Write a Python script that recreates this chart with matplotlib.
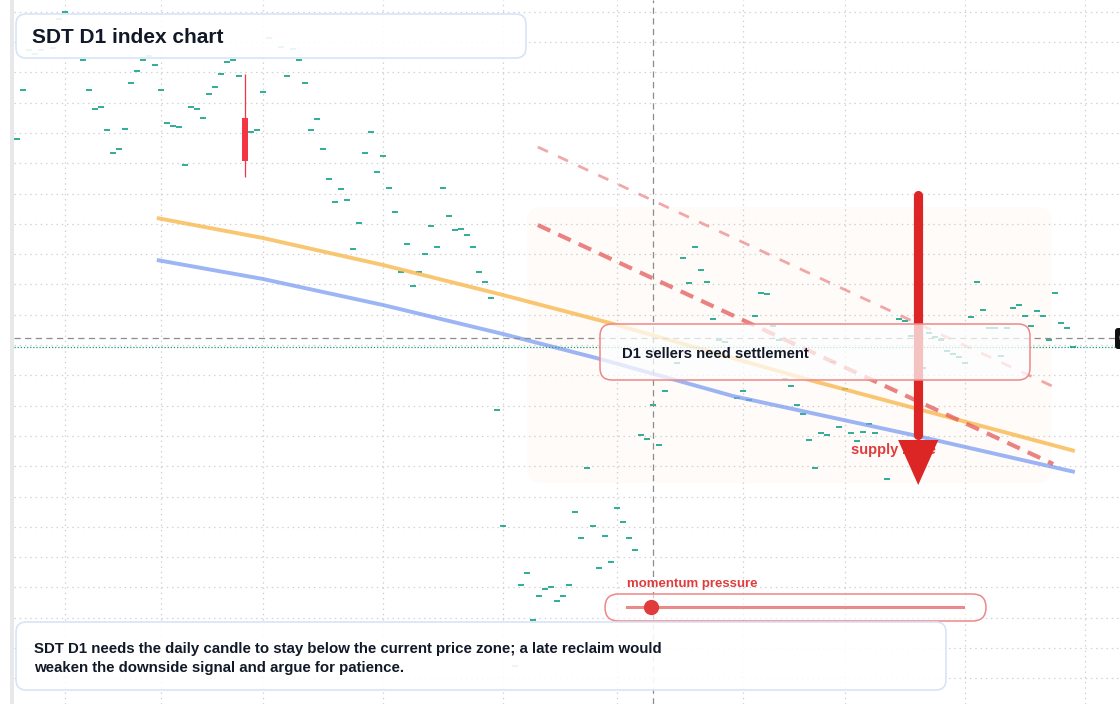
import numpy as np
import matplotlib
matplotlib.use("Agg")
import matplotlib.pyplot as plt
from matplotlib.patches import FancyBboxPatch, FancyArrow, Rectangle

plt.rcParams['font.family'] = ['Liberation Sans', 'DejaVu Sans']

# daily closes, one per bar (None = bar off screen / not readable)
closes = [
    86.1, 91.0, 95.0, 94.6, 95.0, None, 95.2, 98.1, 98.8, None,
    None, 94.0, 91.0, 89.1, 89.3, 87.0, 84.7, 85.1, 87.1, 91.7,
    92.9, 94.0, 94.4, 93.5, 91.0, 87.7, 87.4, 87.3, 83.5, 89.3,
    89.1, 88.2, 90.6, 91.3, 92.6, 93.8, 94.0, 92.4, 83.9, 86.8,
    87.0, 90.8, 96.2, None, 95.3, 92.4, 95.1, 94.0, 91.7, 87.0,
    88.1, 85.1, 82.1, 79.8, 81.1, 80.0, 75.1, 77.7, 84.7, 86.8,
    82.8, 84.4, 81.2, 78.8, 72.8, 75.6, 71.4, 72.8, 74.6, 77.4,
    75.3, 81.2, 78.4, 77.0, 77.1, 76.5, 75.3, 72.8, 71.8, 70.2,
    59.0, 47.4, None, 33.4, 41.5, 42.7, 38.0, 40.4, 41.1, 41.3,
    39.9, 40.4, 41.5, 48.8, 46.2, 53.2, 47.4, 43.2, 46.4, 43.8,
    49.2, 47.8, 46.2, 45.0, 56.5, 56.1, 59.5, 55.5, 60.9, None,
    63.7, 74.2, 71.7, 75.3, 73.0, 71.8, 68.1, 66.0, 65.8, None,
    60.2, 60.9, 60.0, 68.4, 70.7, 70.6, 67.4, 66.0, 62.1, 61.4,
    59.5, 58.6, 56.0, 53.2, 56.7, 56.5, 63.8, 57.3, 61.1, 56.7,
    55.9, 56.8, 57.6, 56.7, None, 52.1, None, 68.1, 67.9, 66.4,
    None, 63.2, 66.7, 66.3, 66.0, 64.9, 64.6, 64.3, 63.7, 68.3,
    71.8, 69.0, 67.2, 67.2, 64.4, 67.2, 69.2, 69.5, 68.4, 67.4,
    68.9, 68.4, 66.0, 70.7, 67.7, 67.2, 65.3,
]

# the single full-bodied (bearish) candle
red_idx = 38
red_open, red_high, red_low, red_close = 88.2, 92.6, 82.3, 83.9

# moving averages: bar index / level
ma_slow_x = [23.3, 41.0, 61.0, 81.0, 98.8, 132.7, 176.3]
ma_slow_y = [78.2, 76.2, 73.5, 70.5, 67.7, 61.9, 54.9]
ma_fast_x = [23.3, 41.0, 61.0, 81.0, 97.2, 119.3, 149.3, 176.3]
ma_fast_y = [74.0, 72.1, 69.5, 66.6, 64.1, 60.4, 56.5, 52.8]

# descending trend lines
upper_x = [86.8, 172.5]
upper_y = [85.3, 61.4]
lower_x = [86.8, 172.7]
lower_y = [77.5, 53.6]

# supply zone box (bars, prices)
zone_x = [85.0, 172.5]
zone_y = [51.7, 79.3]

# big downside arrow
arrow_bar = 150.2
arrow_top, arrow_head, arrow_tip = 80.5, 56.0, 51.5

month_ticks = [8, 24, 41, 61, 81, 100, 121, 138, 158, 178]
cross_bar, cross_price = 106, 66.2
momentum = 0.07

TEAL = '#0e9f84'
RED = '#dc2626'

fig = plt.figure(figsize=(11.2, 7.04), dpi=100, facecolor='white')
ax = fig.add_axes([14 / 1120, 0, 1106 / 1120, 1])
ax.set_xlim(-0.5, 183.83)
ax.set_ylim(29.6, 100)
for s in ax.spines.values():
    s.set_visible(False)
ax.set_xticks(month_ticks)
ax.set_yticks(np.arange(98.83, 29.6, -3.03))
ax.tick_params(length=0, labelbottom=False, labelleft=False)
ax.grid(True, color='#d2d2d2', lw=0.9, ls=(0, (1.2, 3)))
ax.set_axisbelow(True)

# zone
zone = FancyBboxPatch((zone_x[0], zone_y[0]), zone_x[1] - zone_x[0], zone_y[1] - zone_y[0],
                      boxstyle='round,pad=0,rounding_size=2.5', mutation_aspect=0.6,
                      fc='#f4a460', ec='none', alpha=0.045, zorder=1)
ax.add_patch(zone)

# candles
idx = np.arange(len(closes))
vals = np.array([np.nan if v is None else v for v in closes], dtype=float)
ok = ~np.isnan(vals) & (idx != red_idx)
ax.hlines(vals[ok], idx[ok] - 0.42, idx[ok] + 0.42, color=TEAL, lw=1.2, zorder=2)
ax.vlines(red_idx, red_low, red_high, color='#f23645', lw=0.9, zorder=2)
ax.bar(red_idx, red_open - red_close, bottom=red_close, width=0.9, color='#f23645', zorder=2)

# moving averages and trend lines
ax.plot(ma_slow_x, ma_slow_y, color='#f8b84e', lw=2.8, alpha=0.8, zorder=3,
        solid_capstyle='butt', solid_joinstyle='round')
ax.plot(ma_fast_x, ma_fast_y, color='#7b9cf2', lw=2.8, alpha=0.75, zorder=3,
        solid_capstyle='butt', solid_joinstyle='round')
ax.plot(upper_x, upper_y, color='#ec8c8c', lw=2.0, alpha=0.75, ls=(0, (4, 4)), zorder=3)
ax.plot(lower_x, lower_y, color='#e55a5a', lw=3.0, alpha=0.75, ls=(0, (3.3, 2.1)), zorder=3)

# crosshair + last price line
ax.axhline(cross_price, color='#8c8c8c', lw=0.9, ls=(0, (5, 3.5)), zorder=4)
ax.axvline(cross_bar, color='#8c8c8c', lw=0.9, ls=(0, (5, 3.5)), zorder=4)
ax.axhline(closes[-1], color=TEAL, lw=0.9, ls=(0, (1, 1.5)), zorder=4)

ax.text(139.0, 55.0, 'supply zone', color='#e03c3c', weight='bold', size=10.5,
        va='center', zorder=5)

# arrow
ax.plot([arrow_bar, arrow_bar], [arrow_top, arrow_head + 0.5], color=RED, lw=6.6,
        solid_capstyle='round', zorder=6)
ax.add_patch(FancyArrow(arrow_bar, arrow_head, 0, arrow_tip - arrow_head, width=0.01,
                        head_width=6.7, head_length=arrow_head - arrow_tip,
                        length_includes_head=True, color=RED, lw=0, zorder=6))

# overlay for panels (pixel layout)
ov = fig.add_axes([0, 0, 1, 1], zorder=5)
ov.set_xlim(0, 1120)
ov.set_ylim(704, 0)
ov.axis('off')


def panel(x, y, w, h, r, ec, alpha):
    ov.add_patch(FancyBboxPatch((x, y), w, h, boxstyle=f'round,pad=0,rounding_size={r}',
                                fc=(1, 1, 1, alpha), ec=ec, lw=1.1))


ov.add_patch(Rectangle((10, 0), 4, 704, color='#e8e8ea', lw=0))

panel(16, 14, 510, 44, 10, '#d4e2f7', 0.9)
ov.text(32, 37.5, 'SDT D1 index chart', size=15, weight='bold', color='#111827', va='center')

panel(600, 324, 430, 56, 12, '#ee8888', 0.72)
ov.text(622, 354.5, 'D1 sellers need settlement', size=10.7, weight='bold', color='#111827',
        va='center')

ov.text(627, 583.5, 'momentum pressure', size=9.5, weight='bold', color='#e03c3c', va='center')
panel(605, 594, 381, 27, 13.5, '#ee8888', 0.6)
track0, track1 = 627, 963
ov.plot([track0, track1], [607, 607], color='#e87676', lw=2.2, alpha=0.85)
ov.plot(track0 + momentum * (track1 - track0), 607, 'o', ms=10, color='#e03c3c')

panel(16, 622, 930, 68, 10, '#d4e2f7', 0.9)
ov.text(34, 658.5, 'SDT D1 needs the daily candle to stay below the current price zone; a late reclaim would\n'
        'weaken the downside signal and argue for patience.',
        size=10.8, weight='bold', color='#111827', va='center', linespacing=1.5)

# price label at the right edge
ov.add_patch(FancyBboxPatch((1115, 328), 40, 21, boxstyle='round,pad=0,rounding_size=3',
                            fc='#111111', ec='none'))
ov.text(1118, 338.5, f'{cross_price:.2f}', size=9, color='white', va='center')

fig.savefig('out.png', dpi=100, facecolor='white')
